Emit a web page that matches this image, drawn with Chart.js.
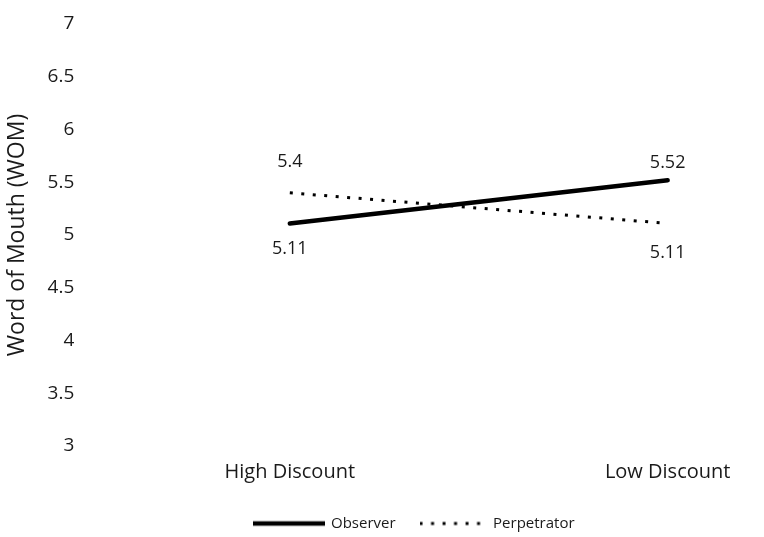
<!DOCTYPE html>
<html>
<head>
<meta charset="utf-8">
<script src="https://cdn.jsdelivr.net/npm/chart.js@4/dist/chart.umd.min.js"></script>
<style>
  html, body { margin: 0; padding: 0; background: #fff; }
  #wrap { width: 764px; height: 537px; }
</style>
</head>
<body>
<div id="wrap"><canvas id="c" width="764" height="537"></canvas></div>
<script>
const categories = ["High Discount", "Low Discount"];
const seriesNames = ["Observer", "Perpetrator"];
const observerValues = [5.11, 5.52];
const perpetratorValues = [5.4, 5.11];
const yTicks = [3, 3.5, 4, 4.5, 5, 5.5, 6, 6.5, 7];

const FONT = "'Open Sans', sans-serif";
const TEXT = "#1a1a1a";

// label placement per dataset per point: offset in px (negative = above)
const labelOffsets = [[25, -17], [-31, 29]];

function lineSwatch(width, lw, dash) {
  const cv = document.createElement('canvas');
  cv.width = width; cv.height = 8;
  const g = cv.getContext('2d');
  g.strokeStyle = '#000';
  g.lineWidth = lw;
  g.setLineDash(dash);
  g.beginPath();
  g.moveTo(0, 4); g.lineTo(width, 4);
  g.stroke();
  return cv;
}
const swatches = [lineSwatch(72, 4.5, []), lineSwatch(64, 3, [3, 8.5])];

const valueLabels = {
  id: 'valueLabels',
  afterDatasetsDraw(chart) {
    const ctx = chart.ctx;
    ctx.save();
    ctx.font = "18px " + FONT;
    ctx.fillStyle = TEXT;
    ctx.textAlign = 'center';
    ctx.textBaseline = 'middle';
    chart.data.datasets.forEach((ds, di) => {
      const meta = chart.getDatasetMeta(di);
      meta.data.forEach((pt, i) => {
        const v = ds.data[i].y;
        ctx.fillText(String(v), pt.x, pt.y + labelOffsets[di][i]);
      });
    });
    ctx.restore();
  }
};

// nudge the legend box to where the reference places it
const legendNudge = {
  id: 'legendNudge',
  afterLayout(chart) {
    const lg = chart.legend;
    if (!lg) return;
    const dx = 31, dy = 4;
    lg.left += dx; lg.right += dx;
    lg.top += dy; lg.bottom += dy;
  }
};

const toPoints = vals => vals.map((v, i) => ({ x: i, y: v }));

new Chart(document.getElementById('c'), {
  type: 'line',
  data: {
    datasets: [
      {
        label: seriesNames[0],
        data: toPoints(observerValues),
        borderColor: '#000',
        backgroundColor: '#000',
        borderWidth: 4.5,
        pointRadius: 0,
        pointStyle: swatches[0],
        borderCapStyle: 'round',
        tension: 0
      },
      {
        label: seriesNames[1],
        data: toPoints(perpetratorValues),
        borderColor: '#000',
        backgroundColor: '#000',
        borderWidth: 3,
        borderDash: [3, 8.5],
        pointRadius: 0,
        pointStyle: swatches[1],
        tension: 0
      }
    ]
  },
  options: {
    responsive: false,
    animation: false,
    devicePixelRatio: 1,
    layout: { padding: { top: 24, right: 0, bottom: 0, left: 4 } },
    plugins: {
      legend: {
        position: 'bottom',
        labels: {
          usePointStyle: true,
          pointStyleWidth: 68,
          color: TEXT,
          font: { family: FONT, size: 15 },
          padding: 22,
          boxHeight: 8
        }
      },
      tooltip: { enabled: false }
    },
    scales: {
      x: {
        type: 'linear',
        min: -0.528,
        max: 1.255,
        grid: { display: false },
        border: { display: false },
        afterBuildTicks: s => { s.ticks = categories.map((c, i) => ({ value: i })); },
        ticks: {
          color: TEXT,
          font: { family: FONT, size: 20 },
          padding: 6,
          maxRotation: 0,
          callback: v => categories[v]
        }
      },
      y: {
        min: 3,
        max: 7,
        grid: { display: false },
        border: { display: false },
        afterBuildTicks: s => { s.ticks = yTicks.map(v => ({ value: v })); },
        ticks: {
          color: TEXT,
          font: { family: FONT, size: 19 },
          padding: 8,
          callback: v => String(v)
        },
        title: {
          display: true,
          text: 'Word of Mouth (WOM)',
          color: TEXT,
          font: { family: FONT, size: 23 },
          padding: { top: 0, bottom: 8 }
        }
      }
    }
  },
  plugins: [valueLabels, legendNudge]
});
</script>
</body>
</html>
